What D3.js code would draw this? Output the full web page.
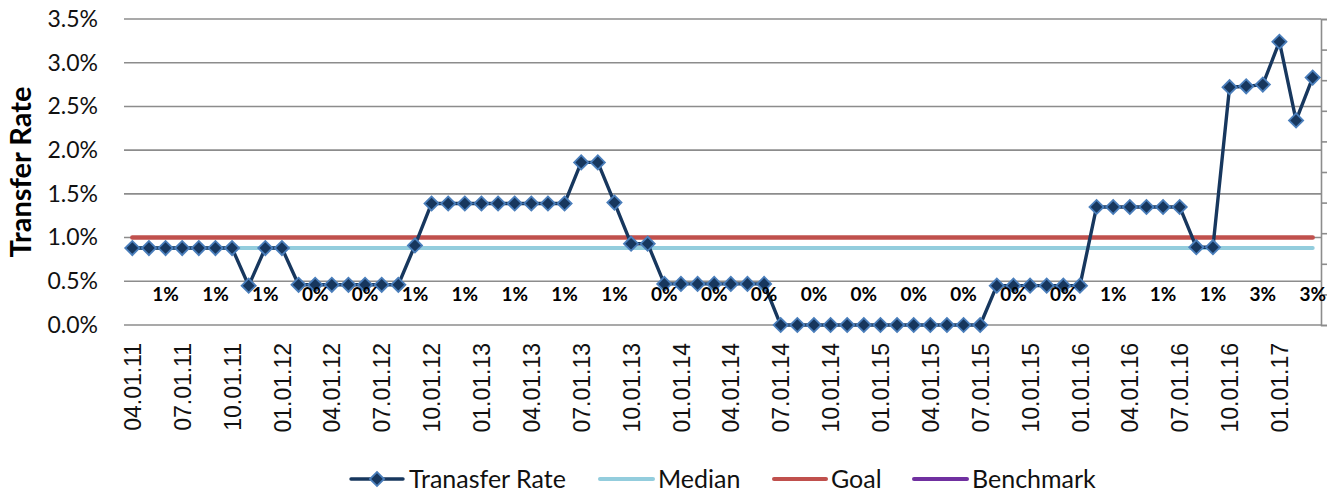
<!DOCTYPE html>
<html>
<head>
<meta charset="utf-8">
<script src="https://cdn.jsdelivr.net/npm/d3@7"></script>
<style>
  html, body { margin: 0; padding: 0; background: #fff; }
  svg { display: block; }
</style>
</head>
<body>
<svg id="chart" width="1327" height="494"></svg>
<script>
// ---- DATA ----
const months = [
  "04.01.11","05.01.11","06.01.11","07.01.11","08.01.11","09.01.11","10.01.11","11.01.11","12.01.11",
  "01.01.12","02.01.12","03.01.12","04.01.12","05.01.12","06.01.12","07.01.12","08.01.12","09.01.12","10.01.12","11.01.12","12.01.12",
  "01.01.13","02.01.13","03.01.13","04.01.13","05.01.13","06.01.13","07.01.13","08.01.13","09.01.13","10.01.13","11.01.13","12.01.13",
  "01.01.14","02.01.14","03.01.14","04.01.14","05.01.14","06.01.14","07.01.14","08.01.14","09.01.14","10.01.14","11.01.14","12.01.14",
  "01.01.15","02.01.15","03.01.15","04.01.15","05.01.15","06.01.15","07.01.15","08.01.15","09.01.15","10.01.15","11.01.15","12.01.15",
  "01.01.16","02.01.16","03.01.16","04.01.16","05.01.16","06.01.16","07.01.16","08.01.16","09.01.16","10.01.16","11.01.16","12.01.16",
  "01.01.17","02.01.17","03.01.17"
];
const transferRate = [
  0.0088,0.0088,0.0088,0.0088,0.0088,0.0088,0.0088,0.0045,0.0088,
  0.0088,0.0046,0.0046,0.0046,0.0046,0.0046,0.0046,0.0046,0.0091,0.0139,0.0139,0.0139,
  0.0139,0.0139,0.0139,0.0139,0.0139,0.0139,0.0186,0.0186,0.0140,0.0093,0.0093,0.0047,
  0.0047,0.0047,0.0047,0.0047,0.0047,0.0047,0,0,0,0,0,0,
  0,0,0,0,0,0,0,0.0045,0.0045,0.0045,0.0045,0.0045,
  0.0045,0.0135,0.0135,0.0135,0.0135,0.0135,0.0135,0.0089,0.0089,0.0272,0.0273,0.0275,
  0.0324,0.0234,0.0283
];
const medianValue = 0.0088;
const goalValue = 0.01;
const tickLabels = ["04.01.11","07.01.11","10.01.11","01.01.12","04.01.12","07.01.12","10.01.12",
  "01.01.13","04.01.13","07.01.13","10.01.13","01.01.14","04.01.14","07.01.14","10.01.14",
  "01.01.15","04.01.15","07.01.15","10.01.15","01.01.16","04.01.16","07.01.16","10.01.16","01.01.17"];
const quarterLabelMonths = ["06.01.11","09.01.11","12.01.11","03.01.12","06.01.12","09.01.12","12.01.12",
  "03.01.13","06.01.13","09.01.13","12.01.13","03.01.14","06.01.14","09.01.14","12.01.14",
  "03.01.15","06.01.15","09.01.15","12.01.15","03.01.16","06.01.16","09.01.16","12.01.16","03.01.17"];
const quarterLabels = ["1%","1%","1%","0%","0%","1%","1%","1%","1%","1%","0%","0%",
  "0%","0%","0%","0%","0%","0%","0%","1%","1%","1%","3%","3%"];
const yTicks = [0,0.005,0.01,0.015,0.02,0.025,0.03,0.035];
const legendNames = ["Tranasfer Rate","Median","Goal","Benchmark"];

// ---- LAYOUT ----
const svg = d3.select("#chart");
const pLeft = 124, pRight = 1321, pTop = 19, pBottom = 325;
const navy = "#17375E", markerEdge = "#4A7EBB", medianColor = "#93CDDD",
      goalColor = "#C0504D", benchColor = "#7030A0", gridColor = "#8C8C8C";

const x = d3.scalePoint().domain(months).range([pLeft, pRight]).padding(0.5);
const y = d3.scaleLinear().domain([0, 0.035]).range([pBottom, pTop]);
const y2 = d3.scaleLinear().domain([0, 1]).range([pBottom, pTop]);

// gridlines
svg.append("g")
  .selectAll("line").data(yTicks).join("line")
  .attr("x1", pLeft).attr("x2", pRight)
  .attr("y1", d => y(d)).attr("y2", d => y(d))
  .attr("stroke", gridColor).attr("stroke-width", 1.6);

// left axis labels
const yAxis = svg.append("g").attr("transform", `translate(${pLeft},0)`)
  .call(d3.axisLeft(y).tickValues(yTicks).tickFormat(d3.format(".1%")).tickSize(0).tickPadding(26));
yAxis.select(".domain").remove();
yAxis.selectAll("text").attr("font-family", "Lato, sans-serif").attr("font-size", 23).attr("fill", "#111");

// right secondary axis (ticks only)
const y2Axis = svg.append("g").attr("transform", `translate(${pRight},0)`)
  .call(d3.axisRight(y2).ticks(10).tickSize(7).tickFormat(""));
y2Axis.select(".domain").attr("stroke", gridColor).attr("stroke-width", 1.6);
y2Axis.selectAll(".tick line").attr("stroke", gridColor).attr("stroke-width", 1.6);

// x axis labels
const xAxis = svg.append("g").attr("transform", `translate(0,${pBottom})`)
  .call(d3.axisBottom(x).tickValues(tickLabels).tickSize(0));
xAxis.select(".domain").remove();
xAxis.selectAll("text")
  .attr("font-family", "Liberation Sans, Arial, sans-serif").attr("font-size", 23).attr("fill", "#111")
  .attr("transform", "rotate(-90)")
  .attr("text-anchor", "end")
  .attr("x", -18).attr("y", 0).attr("dy", "0.35em");

// y title
svg.append("text")
  .attr("transform", `translate(31,${(pTop + pBottom) / 2}) rotate(-90)`)
  .attr("text-anchor", "middle")
  .attr("font-family", "Lato, sans-serif").attr("font-weight", "bold").attr("font-size", 29)
  .attr("fill", "#000")
  .text("Transfer Rate");

// median & goal
const xFirst = x(months[0]), xLast = x(months[months.length - 1]);
svg.append("line").attr("x1", xFirst).attr("x2", xLast)
  .attr("y1", y(medianValue)).attr("y2", y(medianValue))
  .attr("stroke", medianColor).attr("stroke-width", 4).attr("stroke-linecap", "round");
svg.append("line").attr("x1", xFirst).attr("x2", xLast)
  .attr("y1", y(goalValue)).attr("y2", y(goalValue))
  .attr("stroke", goalColor).attr("stroke-width", 4.5).attr("stroke-linecap", "round");

// transfer rate line
const line = d3.line().x((d, i) => x(months[i])).y(d => y(d));
svg.append("path").datum(transferRate)
  .attr("d", line).attr("fill", "none")
  .attr("stroke", navy).attr("stroke-width", 3.4).attr("stroke-linejoin", "round");

svg.append("g").selectAll("path").data(transferRate).join("path")
  .attr("d", d3.symbol().type(d3.symbolSquare).size(100))
  .attr("transform", (d, i) => `translate(${x(months[i])},${y(d)}) rotate(45)`)
  .attr("fill", navy).attr("stroke", markerEdge).attr("stroke-width", 1.8);

// quarterly data labels
svg.append("g").selectAll("text").data(quarterLabels).join("text")
  .attr("x", (d, i) => x(quarterLabelMonths[i]))
  .attr("y", 301)
  .attr("text-anchor", "middle")
  .attr("font-family", "Lato, sans-serif").attr("font-weight", "bold").attr("font-size", 19)
  .attr("fill", "#000")
  .text(d => d);

// legend
const legendY = 479;
const legendItems = [
  {name: legendNames[0], color: navy, x0: 351, x1: 403, tx: 409, marker: true},
  {name: legendNames[1], color: medianColor, x0: 600, x1: 653, tx: 658},
  {name: legendNames[2], color: goalColor, x0: 774, x1: 826, tx: 831},
  {name: legendNames[3], color: benchColor, x0: 914, x1: 967, tx: 972}
];
const lg = svg.append("g");
legendItems.forEach(it => {
  lg.append("line").attr("x1", it.x0).attr("x2", it.x1).attr("y1", legendY).attr("y2", legendY)
    .attr("stroke", it.color).attr("stroke-width", it.marker ? 3.4 : 4).attr("stroke-linecap", "round");
  if (it.marker) {
    lg.append("path").attr("d", d3.symbol().type(d3.symbolSquare).size(100))
      .attr("transform", `translate(${(it.x0 + it.x1) / 2},${legendY}) rotate(45)`)
      .attr("fill", navy).attr("stroke", markerEdge).attr("stroke-width", 1.8);
  }
  lg.append("text").attr("x", it.tx).attr("y", legendY).attr("dy", "0.36em")
    .attr("font-family", "Lato, sans-serif").attr("font-size", 25).attr("fill", "#111")
    .text(it.name);
});
</script>
</body>
</html>
